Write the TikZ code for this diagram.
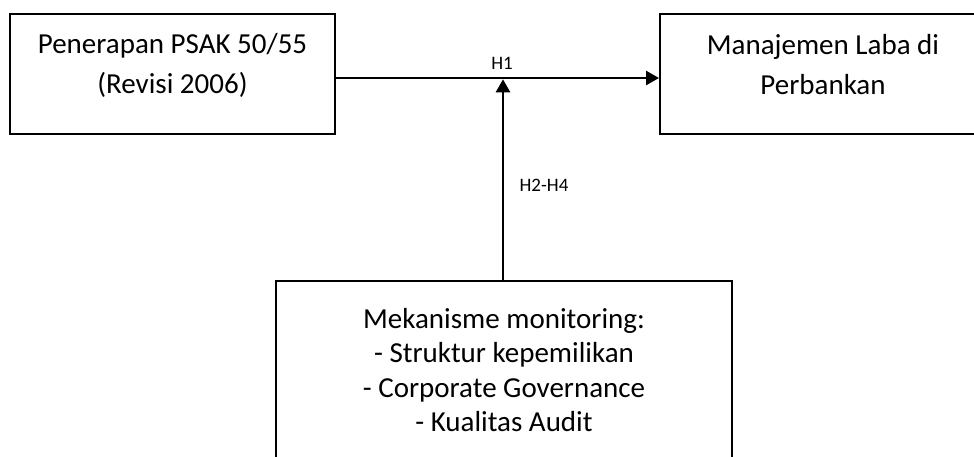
\documentclass[tikz,border=0pt]{standalone}
\usepackage{fontspec}
\setmainfont{Carlito}
\usetikzlibrary{arrows.meta}
\begin{document}
\begin{tikzpicture}[x=1pt,y=1pt,
  box/.style={draw, line width=2pt, rectangle, inner sep=0pt},
  bigtext/.style={align=center, font=\fontsize{29}{40}\selectfont, inner sep=0pt},
  smalltext/.style={font=\fontsize{19}{22}\selectfont, inner sep=0pt},
  conn/.style={line width=2.6pt, -{Triangle[length=13pt,width=14pt]}}]
\clip (0,0) rectangle (974,456);
\fill[white] (0,0) rectangle (974,456);
\node[box, minimum width=325pt, minimum height=120pt] (lbox) at (172.5,382) {};
\node[box, minimum width=330pt, minimum height=120pt] (rbox) at (825,382) {};
\node[box, minimum width=456.5pt, minimum height=195pt] (bbox) at (503.75,77.5) {};
\node[bigtext] (ltext) at (172.5,391) {Penerapan PSAK 50/55\\(Revisi 2006)};
\node[bigtext] (rtext) at (823,391) {Manajemen Laba di\\Perbankan};
\node[bigtext, font=\fontsize{29}{34.5}\selectfont] (btext) at (504,86) {Mekanisme monitoring:\\- Struktur kepemilikan\\- Corporate Governance\\- Kualitas Audit};
\coordinate (hstart) at (lbox.east |- 0,378);
\coordinate (hend) at (rbox.west |- 0,378);
\coordinate (meet) at (503,376.7);
\coordinate (vstart) at (503,0 |- bbox.north);
\draw[conn] (hstart) -- (hend);
\draw[conn] (vstart) -- (meet);
\node[smalltext] (h1) at (502,393) {H1};
\node[smalltext] (h24) at (544,271) {H2-H4};
\end{tikzpicture}
\end{document}
